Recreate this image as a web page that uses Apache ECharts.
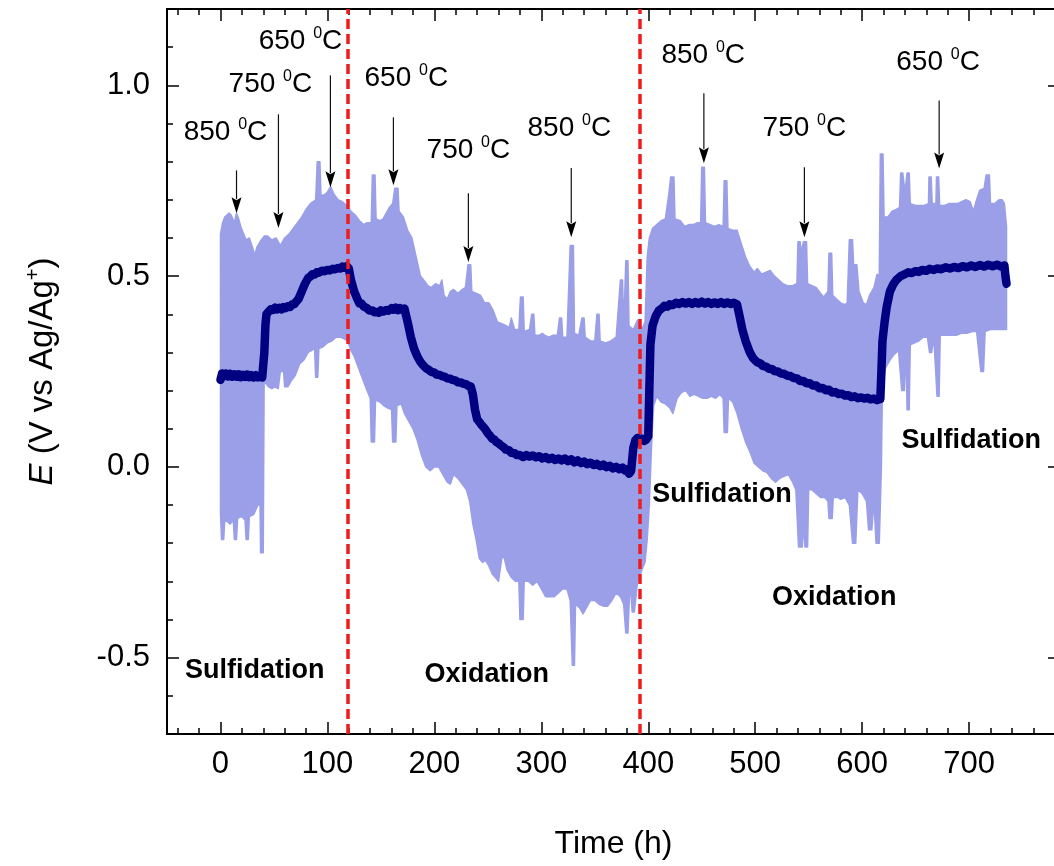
<!DOCTYPE html>
<html>
<head>
<meta charset="utf-8">
<title>Electrode potential vs time</title>
<script src="https://cdn.jsdelivr.net/npm/echarts@6/dist/echarts.min.js"></script>
<style>
  html, body { margin: 0; padding: 0; background: #ffffff; }
  #chart { width: 1054px; height: 866px; }
</style>
</head>
<body>
<div id="chart"></div>
<script>
// ---- data -------------------------------------------------------------
// Time (h) tick values
const timeTicks = [0, 100, 200, 300, 400, 500, 600, 700];
const timeMinorTicks = [-40, -20, 0, 20, 40, 60, 80, 100, 120, 140, 160, 180, 200, 220, 240, 260, 280, 300,
  320, 340, 360, 380, 400, 420, 440, 460, 480, 500, 520, 540, 560, 580, 600, 620, 640, 660, 680, 700, 720, 740, 760, 780];
// Potential (V) tick values
const potentialTicks = [-0.5, 0.0, 0.5, 1.0];
const potentialMinorTicks = [-0.7, -0.6, -0.5, -0.4, -0.3, -0.2, -0.1, 0.0, 0.1, 0.2, 0.3, 0.4, 0.5, 0.6, 0.7, 0.8, 0.9, 1.0, 1.1, 1.2];

// Upper envelope of the raw (fluctuating) potential signal [time h, E V]
const rawUpper = [
  [0, 0.61], [2, 0.64], [4, 0.655], [8, 0.665], [10, 0.66], [13, 0.64], [15, 0.665], [17, 0.65], [19, 0.63],
  [21, 0.615], [24, 0.595], [27, 0.60], [30, 0.575], [32, 0.555], [34, 0.575], [37, 0.59], [41, 0.605],
  [44, 0.605], [48, 0.595], [52, 0.60], [56, 0.58], [60, 0.60], [64, 0.61], [68, 0.625], [72, 0.64],
  [76, 0.655], [80, 0.675], [84, 0.69], [89, 0.70], [90.5, 0.80], [93, 0.80], [94, 0.71], [98, 0.715],
  [100, 0.72], [103, 0.735], [106, 0.715], [110, 0.70], [114, 0.695], [118, 0.685], [122, 0.67], [126, 0.66],
  [130, 0.645], [134, 0.635], [137, 0.64], [141, 0.64], [142, 0.765], [144.5, 0.765], [145.5, 0.65],
  [149, 0.645], [152, 0.65], [155, 0.665], [158, 0.68], [161, 0.69], [163, 0.73], [166, 0.73], [167, 0.67],
  [171, 0.655], [175, 0.62], [179, 0.60], [183, 0.55], [187, 0.50], [190, 0.49], [194, 0.475], [197, 0.47],
  [201, 0.48], [205, 0.475], [207, 0.49], [209, 0.45], [212, 0.44], [215, 0.46], [218, 0.465], [222, 0.455],
  [226, 0.465], [229, 0.47], [231.5, 0.53], [234, 0.53], [235, 0.46], [239, 0.455], [243, 0.45], [247, 0.43],
  [251, 0.43], [255, 0.41], [259, 0.38], [263, 0.375], [267, 0.37], [270, 0.365], [272, 0.39], [275, 0.36],
  [279, 0.36], [280.5, 0.445], [283, 0.445], [284, 0.355], [289, 0.36], [291, 0.40], [293, 0.40], [294, 0.345],
  [298, 0.345], [301, 0.35], [303, 0.345], [307, 0.34], [311, 0.345], [315, 0.345], [317, 0.39], [319, 0.39],
  [320, 0.34], [324, 0.34], [327, 0.58], [330, 0.58], [331, 0.35], [335, 0.345], [338, 0.39], [340, 0.39],
  [341, 0.34], [346, 0.33], [350, 0.33], [352, 0.40], [354, 0.40], [355, 0.33], [360, 0.325], [365, 0.33],
  [370, 0.34], [374, 0.49], [376, 0.49], [377, 0.36], [379, 0.54], [381, 0.54], [382, 0.37], [386, 0.36],
  [390, 0.385], [394, 0.36], [397, 0.38], [399, 0.55], [401, 0.60], [404, 0.625], [408, 0.635], [412, 0.645],
  [416, 0.65], [419, 0.71], [421, 0.76], [424, 0.76], [425, 0.65], [430, 0.645], [434, 0.63], [438, 0.635],
  [442, 0.635], [446, 0.64], [449, 0.64], [450, 0.785], [452.5, 0.785], [453.5, 0.64], [458, 0.635],
  [462, 0.63], [466, 0.635], [470, 0.63], [471, 0.75], [473.5, 0.75], [474.5, 0.625], [479, 0.62], [483, 0.62],
  [487, 0.585], [491, 0.55], [495, 0.525], [499, 0.51], [502, 0.52], [506, 0.505], [510, 0.51], [514, 0.515],
  [518, 0.50], [522, 0.49], [526, 0.48], [530, 0.475], [535, 0.475], [539, 0.48], [540, 0.59], [542, 0.59],
  [543.5, 0.56], [545, 0.59], [548, 0.59], [549, 0.48], [553, 0.475], [557, 0.47], [561, 0.455], [564, 0.445],
  [568, 0.46], [569, 0.56], [571.5, 0.56], [572.5, 0.45], [576, 0.44], [580, 0.43], [584, 0.425], [586, 0.43],
  [588, 0.595], [591, 0.595], [592, 0.53], [595, 0.53], [597, 0.46], [601, 0.43], [604, 0.425], [607, 0.45],
  [611, 0.47], [614, 0.505], [616, 0.50], [617, 0.82], [619.5, 0.82], [620.5, 0.655], [624, 0.655],
  [628, 0.67], [632, 0.675], [635, 0.68], [636, 0.77], [638, 0.77], [640, 0.72], [642, 0.77], [644, 0.77],
  [645, 0.69], [650, 0.685], [654, 0.685], [658, 0.685], [662, 0.69], [662.5, 0.76], [664.5, 0.76],
  [665.5, 0.69], [669, 0.69], [669.5, 0.76], [671.5, 0.76], [672.5, 0.685], [677, 0.685], [681, 0.69],
  [685, 0.69], [689, 0.69], [693, 0.695], [697, 0.70], [701, 0.695], [704, 0.67], [707, 0.70], [710, 0.725],
  [714, 0.73], [716, 0.765], [719, 0.765], [720, 0.69], [724, 0.69], [728, 0.70], [731, 0.70], [733, 0.69],
  [735, 0.63]
];

// Lower envelope of the raw potential signal [time h, E V]
const rawLower = [
  [0, -0.12], [1, -0.19], [3, -0.19], [4, -0.14], [7, -0.145], [9, -0.15], [12, -0.14], [13, -0.19],
  [15, -0.19], [16, -0.135], [20, -0.13], [23, -0.14], [24, -0.19], [26, -0.19], [27, -0.13], [31, -0.125],
  [35, -0.10], [37, -0.10], [37.5, -0.225], [40, -0.225], [40.8, 0.22], [42, 0.22], [45, 0.21], [48, 0.205],
  [51, 0.21], [54, 0.205], [56, 0.25], [59, 0.25], [60, 0.21], [63, 0.21], [66, 0.225], [70, 0.24],
  [74, 0.27], [78, 0.28], [82, 0.30], [85, 0.305], [88, 0.31], [89, 0.235], [91, 0.235], [92, 0.31],
  [96, 0.315], [100, 0.325], [104, 0.33], [108, 0.34], [112, 0.34], [116, 0.335], [119, 0.33], [122, 0.305],
  [125, 0.29], [129, 0.26], [133, 0.23], [137, 0.20], [140, 0.18], [141, 0.065], [144, 0.065], [145, 0.175],
  [149, 0.17], [153, 0.16], [156, 0.155], [160, 0.15], [161, 0.065], [164, 0.065], [165, 0.16], [169, 0.165],
  [172, 0.14], [176, 0.12], [180, 0.10], [184, 0.07], [188, 0.03], [192, 0.0], [196, -0.01], [200, 0.0],
  [204, 0.0], [208, -0.02], [212, -0.04], [215, -0.045], [218, -0.02], [222, -0.03], [226, -0.045],
  [230, -0.06], [233, -0.09], [236, -0.15], [239, -0.19], [242, -0.24], [245, -0.25], [248, -0.245],
  [251, -0.26], [254, -0.28], [257, -0.29], [260, -0.30], [263, -0.24], [265, -0.235], [268, -0.27],
  [272, -0.29], [276, -0.30], [279, -0.30], [280, -0.40], [283, -0.40], [284, -0.30], [288, -0.30],
  [292, -0.31], [296, -0.30], [300, -0.32], [304, -0.34], [308, -0.34], [312, -0.34], [316, -0.33],
  [320, -0.32], [324, -0.32], [327, -0.35], [329, -0.52], [331, -0.52], [332, -0.36], [336, -0.37],
  [339, -0.385], [342, -0.37], [346, -0.35], [350, -0.35], [354, -0.36], [358, -0.365], [362, -0.365],
  [366, -0.35], [370, -0.33], [374, -0.34], [377, -0.36], [379, -0.435], [381, -0.435], [383, -0.30],
  [385, -0.38], [387, -0.38], [390, -0.30], [394, -0.27], [397, -0.25], [399, -0.19], [401, -0.10],
  [403, 0.05], [405, 0.16], [408, 0.185], [412, 0.17], [416, 0.165], [420, 0.155], [423, 0.14], [427, 0.18],
  [431, 0.195], [435, 0.20], [439, 0.185], [443, 0.19], [447, 0.185], [451, 0.18], [455, 0.18], [459, 0.185],
  [463, 0.18], [467, 0.19], [470, 0.18], [471, 0.09], [474, 0.09], [475, 0.18], [479, 0.17], [483, 0.14],
  [487, 0.10], [491, 0.065], [495, 0.04], [499, 0.01], [503, 0.0], [507, -0.01], [511, -0.015], [515, -0.03],
  [519, -0.04], [523, -0.03], [527, -0.025], [531, -0.02], [535, -0.04], [538, -0.06], [540.5, -0.21],
  [544, -0.21], [545, -0.15], [546.5, -0.21], [549, -0.21], [550, -0.06], [553, -0.06], [557, -0.07],
  [561, -0.08], [565, -0.08], [568, -0.09], [569, -0.135], [572, -0.135], [573, -0.08], [577, -0.08],
  [580, -0.085], [584, -0.08], [588, -0.10], [591, -0.20], [594, -0.20], [596, -0.06], [600, -0.07],
  [604, -0.09], [606, -0.165], [609, -0.165], [611, -0.09], [613, -0.20], [616, -0.20], [618, 0.0],
  [619, 0.22], [622, 0.26], [626, 0.28], [630, 0.295], [634, 0.305], [637, 0.20], [639.5, 0.20], [641, 0.31],
  [642, 0.15], [644, 0.15], [645, 0.32], [649, 0.325], [653, 0.33], [657, 0.34], [661, 0.34], [663, 0.30],
  [665, 0.30], [667, 0.34], [670, 0.185], [672, 0.185], [673, 0.345], [678, 0.345], [683, 0.345],
  [688, 0.345], [693, 0.35], [698, 0.35], [703, 0.355], [707, 0.355], [711, 0.25], [713.5, 0.25],
  [715, 0.355], [720, 0.36], [725, 0.36], [730, 0.36], [735, 0.36]
];

// Averaged potential [time h, E V]
const meanPotential = [
  [0, 0.228], [1.5, 0.245], [3, 0.238], [5, 0.245], [7, 0.237], [9, 0.244], [11, 0.236], [13, 0.243],
  [15, 0.236], [17, 0.243], [19, 0.235], [21, 0.241], [23, 0.236], [25, 0.242], [27, 0.235], [29, 0.24],
  [31, 0.234], [33, 0.24], [35, 0.235], [37, 0.239], [39, 0.234], [40, 0.236], [41, 0.30], [42, 0.37],
  [43, 0.40], [45, 0.407], [47, 0.413], [49, 0.411], [51, 0.417], [53, 0.413], [55, 0.417], [57, 0.413],
  [59, 0.419], [61, 0.416], [63, 0.421], [65, 0.419], [67, 0.426], [69, 0.426], [71, 0.434], [73, 0.44],
  [76, 0.46], [79, 0.48], [82, 0.495], [84, 0.499], [86, 0.505], [88, 0.504], [90, 0.51], [92, 0.509],
  [95, 0.514], [97, 0.513], [100, 0.516], [102, 0.515], [105, 0.519], [107, 0.518], [110, 0.521],
  [112, 0.52], [114, 0.525], [116, 0.522], [118, 0.526], [120, 0.52], [122, 0.49], [125, 0.46], [128, 0.44],
  [130, 0.428], [132, 0.428], [134, 0.42], [137, 0.416], [139, 0.41], [142, 0.41], [144, 0.405],
  [146, 0.406], [148, 0.404], [150, 0.41], [152, 0.407], [155, 0.411], [157, 0.409], [160, 0.416],
  [162, 0.412], [164, 0.417], [166, 0.411], [168, 0.416], [170, 0.412], [172, 0.415], [173, 0.41],
  [175, 0.38], [178, 0.34], [181, 0.31], [184, 0.29], [187, 0.275], [189, 0.268], [191, 0.262],
  [193, 0.257], [195, 0.254], [197, 0.249], [200, 0.247], [202, 0.242], [205, 0.241], [207, 0.238],
  [210, 0.236], [212, 0.232], [215, 0.231], [217, 0.228], [220, 0.226], [222, 0.222], [225, 0.221],
  [227, 0.218], [230, 0.216], [232, 0.212], [234, 0.211], [236, 0.19], [238, 0.15], [240, 0.125],
  [242, 0.118], [244, 0.11], [246, 0.104], [248, 0.097], [250, 0.088], [252, 0.082], [254, 0.074],
  [256, 0.072], [258, 0.065], [260, 0.062], [262, 0.057], [265, 0.051], [267, 0.045], [270, 0.043],
  [272, 0.037], [275, 0.036], [277, 0.031], [280, 0.031], [283, 0.026], [286, 0.031], [289, 0.027],
  [292, 0.03], [295, 0.025], [298, 0.028], [301, 0.022], [304, 0.026], [307, 0.02], [310, 0.024],
  [313, 0.018], [316, 0.022], [319, 0.017], [322, 0.022], [325, 0.015], [328, 0.02], [331, 0.012],
  [334, 0.017], [337, 0.01], [340, 0.014], [343, 0.007], [346, 0.011], [349, 0.005], [352, 0.008],
  [355, 0.002], [358, 0.006], [361, -0.001], [364, 0.003], [367, -0.004], [370, 0.0], [373, -0.006],
  [376, -0.002], [378, -0.009], [380, -0.006], [382, -0.018], [384, -0.01], [386, 0.05], [388, 0.07],
  [390, 0.076], [392, 0.07], [394, 0.074], [396, 0.068], [398, 0.071], [400, 0.08], [401, 0.20],
  [402, 0.32], [404, 0.37], [407, 0.395], [410, 0.41], [413, 0.416], [415, 0.422], [418, 0.42],
  [420, 0.426], [423, 0.424], [426, 0.43], [429, 0.427], [432, 0.432], [435, 0.428], [438, 0.432],
  [441, 0.427], [444, 0.432], [447, 0.428], [450, 0.433], [453, 0.428], [456, 0.432], [459, 0.427],
  [462, 0.431], [465, 0.427], [468, 0.432], [471, 0.427], [474, 0.431], [477, 0.427], [480, 0.43],
  [483, 0.426], [485, 0.40], [488, 0.36], [491, 0.33], [495, 0.30], [498, 0.285], [500, 0.279],
  [502, 0.274], [505, 0.271], [507, 0.265], [510, 0.263], [513, 0.257], [516, 0.256], [518, 0.251],
  [521, 0.25], [524, 0.245], [527, 0.244], [530, 0.239], [533, 0.238], [536, 0.233], [539, 0.232],
  [542, 0.225], [545, 0.225], [548, 0.219], [551, 0.219], [554, 0.213], [557, 0.213], [560, 0.206],
  [563, 0.207], [566, 0.201], [569, 0.202], [572, 0.195], [575, 0.196], [578, 0.191], [581, 0.192],
  [584, 0.187], [587, 0.188], [590, 0.183], [593, 0.185], [596, 0.18], [599, 0.182], [602, 0.179],
  [605, 0.181], [608, 0.177], [611, 0.179], [614, 0.175], [617, 0.178], [618, 0.25], [619, 0.33],
  [621, 0.38], [623, 0.42], [626, 0.46], [629, 0.478], [632, 0.49], [636, 0.5], [640, 0.505],
  [643, 0.51], [646, 0.508], [650, 0.513], [653, 0.511], [656, 0.516], [660, 0.514], [663, 0.519],
  [667, 0.516], [670, 0.52], [674, 0.518], [678, 0.523], [682, 0.52], [686, 0.524], [690, 0.521],
  [694, 0.526], [698, 0.523], [702, 0.528], [706, 0.524], [710, 0.529], [714, 0.525], [718, 0.53],
  [722, 0.526], [726, 0.53], [730, 0.525], [733, 0.528], [734, 0.50], [735, 0.48]
];

// Gas switch-over times (h)
const switchTimes = [118.7, 392.5];

// Temperature annotations
const tempValues = ['850', '750', '650', '650', '750', '850', '850', '750', '650'];
// arrow: [time h, start E, tip E]
const tempArrows = [
  [15, 0.777, 0.665], [54.2, 0.924, 0.626], [102.8, 1.026, 0.733], [161.7, 0.916, 0.738],
  [231.8, 0.717, 0.537], [328, 0.783, 0.602], [452, 0.979, 0.796], [546, 0.785, 0.602], [672, 0.96, 0.782]
];

// Atmosphere annotations
const phaseNames = ['Sulfidation', 'Oxidation', 'Sulfidation', 'Oxidation', 'Sulfidation'];

// ---- text anchor placement (data coordinates) -------------------------
const tempLabelAt = [
  [4.7, 0.877], [46.7, 1.003], [74.8, 1.115], [173.8, 1.018], [231.8, 0.83],
  [326.2, 0.887], [451.4, 1.079], [546, 0.887], [671, 1.06]
];
const phaseLabelAt = [[32, -0.535], [249, -0.543], [469, -0.072], [574, -0.343], [702, 0.07]];

// ---- styling -----------------------------------------------------------
const FONT = 'Arial, "Liberation Sans", Helvetica, sans-serif';
const BAND = '#9a9fe8';
const NAVY = '#000080';

const chart = echarts.init(document.getElementById('chart'), null, { renderer: 'canvas' });

const lineBlack = { show: true, onZero: false, lineStyle: { color: '#000', width: 2 } };
const noSplit = { show: false };

function xAxisDef(position, ticks, len, opts) {
  return Object.assign({
    type: 'value', position: position, min: -50, max: 785,
    axisLine: lineBlack,
    axisTick: { show: true, inside: true, length: len, customValues: ticks, lineStyle: { color: '#000', width: 1.5 } },
    axisLabel: { show: false },
    splitLine: noSplit
  }, opts || {});
}
function yAxisDef(position, ticks, len, opts) {
  return Object.assign({
    type: 'value', position: position, min: -0.7, max: 1.2,
    axisLine: lineBlack,
    axisTick: { show: true, inside: true, length: len, customValues: ticks, lineStyle: { color: '#000', width: 1.5 } },
    axisLabel: { show: false },
    splitLine: noSplit
  }, opts || {});
}

const bandPolygon = rawUpper.concat(rawLower.slice().reverse());

const option = {
  animation: false,
  backgroundColor: '#ffffff',
  grid: { left: 167, top: 9, right: -6, bottom: 132, containLabel: false, outerBoundsMode: 'none' },
  xAxis: [
    xAxisDef('bottom', timeTicks, 12, {
      axisLabel: {
        show: true, customValues: timeTicks, fontSize: 31, color: '#000', fontFamily: FONT, margin: 15
      },
      name: 'Time (h)', nameLocation: 'middle', nameGap: 94,
      nameTextStyle: { fontSize: 32, color: '#000', fontFamily: FONT }
    }),
    xAxisDef('bottom', timeMinorTicks, 6),
    xAxisDef('top', timeTicks, 12),
    xAxisDef('top', timeMinorTicks, 6)
  ],
  yAxis: [
    yAxisDef('left', potentialTicks, 12, {
      axisLabel: {
        show: true, customValues: potentialTicks, fontSize: 31, color: '#000', fontFamily: FONT, margin: 17,
        formatter: function (v) { return Number(v).toFixed(1); }
      },
      name: '{i|E}{n| (V vs Ag/Ag}{s|+}{n|)}', nameLocation: 'middle', nameRotate: 90, nameGap: 104,
      nameTextStyle: {
        rich: {
          i: { fontSize: 33, fontStyle: 'italic', color: '#000', fontFamily: FONT, lineHeight: 40 },
          n: { fontSize: 33, color: '#000', fontFamily: FONT, lineHeight: 40 },
          s: { fontSize: 20, color: '#000', fontFamily: FONT, lineHeight: 20, verticalAlign: 'top' }
        }
      }
    }),
    yAxisDef('left', potentialMinorTicks, 6),
    yAxisDef('right', potentialTicks, 12)
  ],
  series: [
    {
      // spread of the raw signal
      type: 'custom', name: 'raw', coordinateSystem: 'cartesian2d', xAxisIndex: 0, yAxisIndex: 0,
      z: 1, silent: true,
      data: [[0, 0]],
      renderItem: function (params, api) {
        const pts = bandPolygon.map(function (p) { return api.coord(p); });
        return {
          type: 'polygon', shape: { points: pts },
          style: { fill: BAND, stroke: BAND, lineWidth: 1.5, lineJoin: 'round' }
        };
      }
    },
    {
      type: 'line', name: 'mean', xAxisIndex: 0, yAxisIndex: 0, z: 2, silent: true,
      data: meanPotential, showSymbol: false, symbol: 'none',
      lineStyle: { color: NAVY, width: 8.5, join: 'round', cap: 'round' }
    },
    {
      // temperature arrows
      type: 'custom', name: 'arrows', coordinateSystem: 'cartesian2d', xAxisIndex: 0, yAxisIndex: 0,
      z: 4, silent: true,
      data: tempArrows,
      encode: { x: 0, y: [1, 2] },
      renderItem: function (params, api) {
        const t = api.value(0);
        const a = api.coord([t, api.value(1)]);
        const b = api.coord([t, api.value(2)]);
        const head = 16, half = 5;
        return {
          type: 'group',
          children: [
            { type: 'line', shape: { x1: a[0], y1: a[1], x2: b[0], y2: b[1] - head + 2 },
              style: { stroke: '#111', lineWidth: 1.2 } },
            { type: 'polygon', shape: { points: [[b[0] - half, b[1] - head], [b[0], b[1] - head + 3],
                [b[0] + half, b[1] - head], [b[0], b[1]]] },
              style: { fill: '#000' } }
          ]
        };
      },
      markLine: {
        silent: true, symbol: ['none', 'none'], animation: false,
        label: { show: false },
        lineStyle: { color: '#ee1c1c', width: 3.5, type: [10, 5], opacity: 1 },
        data: switchTimes.map(function (t) { return { xAxis: t }; })
      }
    },
    {
      type: 'scatter', name: 'temperatures', xAxisIndex: 0, yAxisIndex: 0, z: 5, silent: true,
      symbolSize: 0, itemStyle: { opacity: 1 },
      data: tempValues.map(function (v, i) { return { value: tempLabelAt[i], name: v }; }),
      label: {
        show: true, position: 'inside', opacity: 1, color: '#000',
        formatter: function (p) { return '{n|' + p.name + ' }{s|0}{n|C}'; },
        rich: {
          n: { fontSize: 28, color: '#000', fontFamily: FONT, lineHeight: 32 },
          s: { fontSize: 16, color: '#000', fontFamily: FONT, lineHeight: 16, verticalAlign: 'top' }
        }
      }
    },
    {
      type: 'scatter', name: 'phases', xAxisIndex: 0, yAxisIndex: 0, z: 5, silent: true,
      symbolSize: 0, itemStyle: { opacity: 1 },
      data: phaseNames.map(function (v, i) { return { value: phaseLabelAt[i], name: v }; }),
      label: {
        show: true, position: 'inside', formatter: '{b}', opacity: 1,
        fontSize: 27, fontWeight: 'bold', color: '#000', fontFamily: FONT
      }
    }
  ]
};

chart.setOption(option);
</script>
</body>
</html>
